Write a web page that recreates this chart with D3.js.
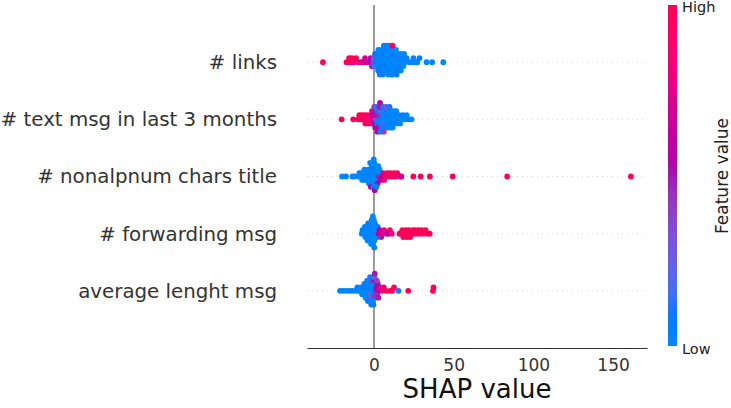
<!DOCTYPE html>
<html>
<head>
<meta charset="utf-8">
<script src="https://cdn.jsdelivr.net/npm/d3@7"></script>
<style>
  body { margin: 0; background: #fff; }
  text { font-family: "DejaVu Sans", sans-serif; }
</style>
</head>
<body>
<svg width="731" height="408"></svg>
<script>
// features, top to bottom
var features = ['# links', '# text msg in last 3 months', '# nonalpnum chars title', '# forwarding msg', 'average lenght msg'];
var xTicks = [0, 50, 100, 150];

// shap values and (normalised) feature values, one pair of arrays per feature
var linksShap = [-32.0, -17.2, -16.2, -15.6, -14.4, -13.8, -12.4, -11.2, -9.6, -8.0, -6.8, -5.6, -4.4, -3.0, -2.0, -1.2,
  -0.6, -0.2, 0.3, 0.7, 1.2, 1.5, 1.9, 2.2, 2.6, 2.8, 3.1, 3.4, 3.8, 4.1, 4.5, 4.8, 3.6,
  5.1, 5.4, 5.8, 6.1, 6.4, 6.8, 5.6, 6.2, 7.1, 7.4, 7.7, 8.0, 8.3, 8.6, 8.9, 7.9,
  9.1, 9.4, 9.7, 10.0, 10.3, 10.6, 10.9, 9.9, 11.1, 11.4, 11.7, 12.0, 12.3, 12.6, 11.5, 11.7,
  13.2, 13.6, 14.0, 14.4, 14.8, 13.8, 14.2, 15.2, 15.6, 16.0, 16.4, 16.8, 17.3, 17.8, 18.4, 18.9, 19.5, 20.5,
  22.3, 23.5, 24.8, 26.0, 27.2, 28.6, 33.0, 36.5, 43.5];
var linksFeat = [1.0, 0.95, 1.0, 0.9, 0.95, 1.0, 0.9, 0.95, 0.8, 0.75, 0.72, 0.7, 0.65, 0.6, 0.55, 0.5,
  0.4, 0.3, 0.15, 0.08, 0.05, 0.1, 0, 0.05, 0.08, 0, 0.05, 0, 0.08, 0.05, 0.1, 0, 0.05,
  0, 0.05, 0.05, 0.08, 0, 0.05, 0.1, 0, 0.05, 0, 0.08, 0, 0.05, 0.02, 0, 0.05,
  0, 0.05, 0.02, 0, 0.08, 0, 0.05, 0, 0.05, 0, 0.02, 0.08, 0, 0.05, 0, 1.0,
  0, 0.05, 0.02, 0, 0.08, 0, 0.05, 0, 0.05, 0.02, 0, 0.05, 0, 0.05, 0, 0.02, 0, 0.05,
  0, 0.05, 0, 0.02, 0, 0.05, 0, 0.02, 0];

var textShap = [-20.3, -13.0, -10.0, -9.2, -8.3, -7.6, -6.8, -6.0, -5.4, -4.8, -4.2, -3.6, -2.8, -2.2, -1.6, -1.2,
  -0.8, -0.4, 0.0, 0.4, 0.8, 0.2, 1.2, 1.6, 2.0, 2.4, 2.8, 1.4, 2.2,
  3.2, 3.6, 4.0, 4.4, 4.8, 3.4, 4.2, 3.8, 5.2, 5.6, 6.0, 6.4, 6.8, 5.8, 6.2,
  7.2, 7.6, 8.0, 8.4, 8.8, 7.8, 9.2, 9.6, 10.0, 10.4, 10.8, 9.8, 11.2, 11.6, 12.0, 12.4, 11.8,
  13.2, 13.8, 14.4, 14.0, 15.2, 15.8, 16.4, 17.4, 18.2, 19.6, 20.6, 21.8, 23.6];
var textFeat = [1.0, 0.95, 1.0, 0.95, 0.9, 1.0, 0.95, 0.9, 1.0, 0.9, 0.95, 0.85, 0.9, 0.85, 0.8, 0.75,
  0.7, 0.65, 0.55, 0.5, 0.6, 0.45, 0.3, 0.5, 0.1, 0.05, 0.55, 0.15, 0.6,
  0.1, 0.45, 0.02, 0.2, 0.05, 0.5, 0, 0.55, 0.05, 0, 0.25, 0, 0.1, 0.02, 0.4,
  0, 0.05, 0, 0.1, 0, 0.3, 0, 0, 0.05, 0, 0, 0.1, 0, 0, 0.05, 0.02, 0,
  0, 0.05, 0, 0, 0, 0.02, 0, 0, 0.05, 0, 0, 0.02, 0];

var nonalShap = [-20.0, -17.5, -13.5, -12.2, -9.6, -9.2, -8.6, -8.0, -7.4, -6.8, -6.2, -5.6, -6.0,
  -4.8, -4.4, -4.0, -3.6, -3.2, -2.8, -2.5, -2.2, -1.9, -1.6, -1.3, -2.0, -2.4,
  -0.8, -0.5, -0.2, 0.1, 0.4, 0.7, -0.4, 0.2, 0.5, -0.1, 1.2, 1.5, 1.8, 2.1, 2.4, 2.7, 1.6,
  3.2, 3.8, 4.4, 3.5, 5.2, 5.8, 6.4, 7.4, 8.4, 9.4, 10.4, 11.6, 12.6, 13.6, 14.6, 16.4, 17.2,
  24.7, 29.3, 35.1, 49.4, 83.6, 161.2];
var nonalFeat = [0, 0.05, 0.02, 0, 0.05, 0, 0, 0.05, 0, 0.02, 0, 0.05, 0,
  0, 0.05, 0, 0.02, 0, 0, 0.05, 0, 0.02, 0, 0.05, 0.6, 0,
  0, 0.05, 0, 0.02, 0, 0.05, 0, 0.02, 0.55, 0, 0, 0.05, 0, 0.02, 0.55, 0, 0.05,
  0.5, 0.05, 0.6, 0, 0.6, 0.7, 0.8, 0.9, 0.95, 1.0, 0.9, 0.95, 1.0, 0.9, 1.0, 0.95, 0.65,
  1.0, 0.95, 1.0, 1.0, 1.0, 1.0];

var fwdShap = [-7.6, -7.2, -6.6, -6.0, -5.4, -5.8, -4.8, -4.3, -3.8, -3.3, -4.0, -3.6,
  -2.8, -2.4, -2.0, -1.6, -1.2, -2.2, -1.8, -1.4, -0.9, -0.6, -0.3, 0.0, 0.3, 0.6, -0.5, -0.1, 0.2, -0.7,
  1.2, 1.6, 2.0, 2.4, 3.0, 3.6, 4.6, 5.6, 6.4, 8.2, 9.0, 10.0, 11.2,
  16.0, 17.0, 17.8, 18.4, 19.2, 20.0, 20.6, 21.4, 22.0, 22.8, 23.6, 24.4, 25.2, 26.0, 27.0, 28.0,
  29.0, 30.0, 31.2, 32.4, 33.6, 35.0];
var fwdFeat = [0, 0.05, 0, 0.02, 0, 0.05, 0, 0.02, 0.05, 0, 0, 0.05,
  0, 0.05, 0, 0.02, 0, 0.05, 0, 0, 0, 0.05, 0, 0.02, 0, 0.05, 0, 0, 0.05, 0,
  0.05, 0, 0.02, 0.1, 0.55, 0.6, 0.5, 0.85, 0.8, 0.6, 0.55, 0.85, 0.9,
  0.85, 0.95, 1.0, 0.9, 1.0, 0.95, 1.0, 0.9, 1.0, 0.95, 1.0, 1.0, 0.9, 1.0, 0.95, 1.0,
  0.9, 1.0, 0.95, 1.0, 0.9, 1.0];

var avgShap = [-21.3, -19.5, -17.5, -15.5, -13.5, -11.5, -9.8, -10.4, -8.6, -8.0, -7.4,
  -6.8, -6.2, -5.6, -6.0, -5.2, -4.8, -4.4, -4.0, -3.6, -3.2, -4.2, -3.8,
  -2.8, -2.5, -2.2, -1.9, -1.6, -1.3, -2.0, -2.4, -1.7,
  -0.8, -0.5, -0.2, 0.1, 0.4, 0.7, -0.6, 0.3, -0.3, 0.5,
  1.2, 1.6, 2.0, 2.4, 2.8, 1.8, 3.2, 3.8, 5.0, 6.2, 7.6, 10.2, 11.4, 12.6, 15.4, 21.5, 37.0, 37.4];
var avgFeat = [0, 0.05, 0, 0.02, 0.05, 0, 0, 0.05, 0, 0.02, 0,
  0, 0.05, 0, 0.1, 0, 0, 0.05, 0.02, 0, 0.05, 0, 0.1,
  0, 0.05, 0.2, 0, 0.3, 0.45, 0, 0.05, 0.1,
  0, 0.05, 0.1, 0, 0.45, 0.55, 0, 0.2, 0.05, 0.5,
  0.5, 0.55, 0.45, 0.6, 0.5, 0.4, 0.6, 0.7, 0.8, 0.85, 0.95, 1.0, 0.95, 1.0, 0.1, 1.0, 1.0, 0.95];

var rows = [[linksShap, linksFeat], [textShap, textFeat], [nonalShap, nonalFeat], [fwdShap, fwdFeat], [avgShap, avgFeat]];

var svg = d3.select('svg');

var x = d3.scaleLinear().domain([-42, 171.3]).range([307, 647]);
var y = d3.scaleLinear().domain([-1, features.length]).range([348, 5]);

// shap red/blue map: lch from blue to red, darker in the middle
function color(t) {
  t = Math.max(0, Math.min(1, t));
  var l = t < 0.5 ? 54 - 28 * t : 40 + 28 * (t - 0.5);
  return d3.hcl(267 + 113 * t, 70 + 20 * t, l).formatHex();
}

// beeswarm: bin x values, stack alternately up and down
var binW = 2;
function swarm(vals) {
  var bins = vals.map(function(v) { return Math.round(v / binW); });
  var idx = d3.range(vals.length).sort(function(a, b) { return bins[a] - bins[b] || a - b; });
  var ys = [], layer = 0, last = null;
  idx.forEach(function(i) {
    if (bins[i] !== last) layer = 0;
    ys[i] = Math.ceil(layer / 2) * ((layer % 2) * 2 - 1);
    layer++;
    last = bins[i];
  });
  var m = d3.max(ys) + 1;
  return ys.map(function(d) { return d * 0.36 / m; });
}

// grid lines
features.forEach(function(f, i) {
  var pos = features.length - 1 - i;
  svg.append('line')
    .attr('x1', 307).attr('x2', 647)
    .attr('y1', y(pos)).attr('y2', y(pos))
    .attr('stroke', '#cccccc').attr('stroke-width', 0.8)
    .attr('stroke-dasharray', '1,4');
});

svg.append('line')
  .attr('x1', x(0)).attr('x2', x(0))
  .attr('y1', y(features.length)).attr('y2', y(-1))
  .attr('stroke', '#999999').attr('stroke-width', 2);

// points
rows.forEach(function(r, i) {
  var pos = features.length - 1 - i;
  var ys = swarm(r[0]);
  svg.append('g').selectAll('circle')
    .data(r[0])
    .enter().append('circle')
      .attr('cx', function(d) { return x(d); })
      .attr('cy', function(d, j) { return y(pos + ys[j]); })
      .attr('r', 2.9)
      .attr('fill', function(d, j) { return color(r[1][j]); });
});

// feature names
svg.append('g').selectAll('text')
  .data(features)
  .enter().append('text')
    .attr('x', 277)
    .attr('y', function(d, i) { return y(features.length - 1 - i); })
    .attr('dy', '0.35em')
    .attr('text-anchor', 'end')
    .attr('font-size', 19.8)
    .attr('fill', '#333333')
    .text(function(d) { return d; });

// x axis
var ax = svg.append('g')
  .attr('transform', 'translate(0,' + y(-1) + ')')
  .call(d3.axisBottom(x).tickValues(xTicks).tickSize(0).tickPadding(11));
ax.select('.domain').attr('stroke', '#333333').attr('stroke-width', 1.2);
ax.selectAll('text')
  .attr('font-size', 17)
  .attr('font-family', '"DejaVu Sans", sans-serif')
  .attr('fill', '#333333');

svg.append('text')
  .attr('x', (x.range()[0] + x.range()[1]) / 2)
  .attr('y', 398)
  .attr('text-anchor', 'middle')
  .attr('font-size', 26)
  .attr('fill', '#111')
  .text('SHAP value');

// colour bar
var grad = svg.append('defs').append('linearGradient')
  .attr('id', 'cb').attr('x1', 0).attr('y1', 1).attr('x2', 0).attr('y2', 0);
d3.range(0, 1.0001, 0.05).forEach(function(t) {
  grad.append('stop').attr('offset', t).attr('stop-color', color(t));
});
svg.append('rect')
  .attr('x', 668).attr('y', 5).attr('width', 9).attr('height', 341)
  .attr('fill', 'url(#cb)');

svg.append('text').attr('x', 682).attr('y', 7).attr('dy', '0.35em')
  .attr('font-size', 14.5).attr('fill', '#222').text('High');
svg.append('text').attr('x', 682).attr('y', 349).attr('dy', '0.35em')
  .attr('font-size', 14.5).attr('fill', '#222').text('Low');
svg.append('text')
  .attr('transform', 'translate(722,176) rotate(-90)')
  .attr('dy', '0.35em')
  .attr('text-anchor', 'middle')
  .attr('font-size', 17)
  .attr('fill', '#222')
  .text('Feature value');
</script>
</body>
</html>
